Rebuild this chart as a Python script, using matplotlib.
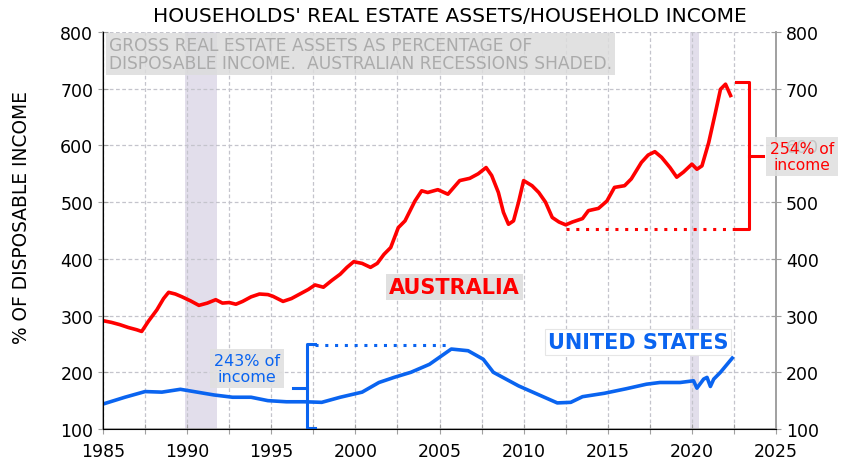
import numpy as np
import matplotlib
matplotlib.use("Agg")
import matplotlib.pyplot as plt
from matplotlib.ticker import MultipleLocator, FuncFormatter

# Australia: household real estate assets as % of disposable income
aus_year = [1985.0, 1985.5, 1986.0, 1986.5, 1987.0, 1987.3, 1987.7, 1988.2, 1988.6, 1988.9,
            1989.3, 1989.7, 1990.2, 1990.7, 1991.2, 1991.7, 1992.1, 1992.5, 1992.9, 1993.3,
            1993.8, 1994.3, 1994.8, 1995.1, 1995.7, 1996.2, 1996.7, 1997.2, 1997.6, 1998.1,
            1998.6, 1999.1, 1999.5, 1999.9, 2000.4, 2000.9, 2001.3, 2001.7, 2002.1, 2002.55,
            2002.95, 2003.54, 2003.94, 2004.3, 2004.9, 2005.5, 2006.2, 2006.8, 2007.3, 2007.77,
            2008.1, 2008.5, 2008.8, 2009.1, 2009.4, 2009.7, 2010.0, 2010.5, 2010.9, 2011.3,
            2011.7, 2012.1, 2012.5, 2012.9, 2013.5, 2013.85, 2014.45, 2014.95, 2015.4, 2016.0,
            2016.4, 2017.0, 2017.4, 2017.8, 2018.2, 2018.7, 2019.1, 2019.5, 2020.0, 2020.3,
            2020.6, 2021.0, 2021.4, 2021.7, 2022.0, 2022.3]
aus_val = [291, 288, 284, 279, 275, 272, 290, 310, 330, 341,
           338, 333, 326, 318, 322, 328, 322, 323, 320, 325,
           333, 338, 337, 334, 325, 330, 338, 346, 354, 350,
           362, 373, 385, 395, 392, 385, 392, 408, 420, 455,
           467, 502, 520, 517, 522, 514, 538, 542, 550, 561,
           547, 517, 482, 461, 467, 500, 538, 529, 517, 500,
           473, 465, 460, 465, 471, 485, 489, 502, 526, 529,
           541, 570, 583, 589, 579, 561, 544, 553, 567, 558,
           564, 605, 658, 699, 708, 688]

# United States
us_year = [1985.0, 1986.3, 1987.5, 1988.5, 1989.6, 1990.6, 1991.6, 1992.7, 1993.8, 1994.8,
           1995.9, 1997.0, 1998.0, 1999.1, 2000.4, 2001.4, 2002.3, 2003.3, 2004.4, 2005.7,
           2006.7, 2007.6, 2008.2, 2009.7, 2011.0, 2012.0, 2012.8, 2013.5, 2014.8, 2016.1,
           2017.3, 2018.1, 2019.3, 2020.1, 2020.3, 2020.7, 2020.9, 2021.1, 2021.3, 2021.7,
           2022.4]
us_val = [144, 156, 166, 165, 170, 165, 160, 156, 156, 150,
          148, 148, 147, 156, 165, 182, 191, 200, 214, 241,
          238, 223, 200, 176, 159, 146, 147, 157, 163, 171,
          179, 182, 182, 185, 172, 188, 191, 175, 188, 200,
          225]

recessions = [(1989.9, 1991.8), (2019.9, 2020.4)]

aus_col = "#ff0000"
us_col = "#0a64f0"

fig = plt.figure(figsize=(8.66, 4.77), dpi=100)
ax = fig.add_axes([103/866, 47/477, 673/866, 397/477])

for a, b in recessions:
    ax.axvspan(a, b, color="#e2deeb", zorder=0, lw=0)

ax.plot(aus_year, aus_val, color=aus_col, lw=2.6, zorder=3)
ax.plot(us_year, us_val, color=us_col, lw=2.6, zorder=3)

ax.set_xlim(1985, 2025)
ax.set_ylim(100, 800)
ax.xaxis.set_major_locator(MultipleLocator(2.5))
ax.yaxis.set_major_locator(MultipleLocator(100))
ax.xaxis.set_major_formatter(FuncFormatter(lambda v, p: "%d" % v if v % 5 == 0 else ""))
ax.grid(True, ls=(0, (3, 2)), color="#c4c4cc", lw=0.9, zorder=1)
for s in ["left", "right", "bottom"]:
    ax.spines[s].set_color("#a0a0a0")
    ax.spines[s].set_linewidth(1.2)
ax.spines["top"].set_visible(False)
ax.tick_params(axis="both", direction="inout", length=7, color="#a0a0a0", labelsize=12.5)
ax.tick_params(axis="x", pad=6)

ax2 = ax.twinx()
ax2.set_ylim(100, 800)
ax2.yaxis.set_major_locator(MultipleLocator(100))
ax2.spines["top"].set_visible(False)
ax2.spines["right"].set_color("#a0a0a0")
ax2.spines["right"].set_linewidth(1.2)
ax2.tick_params(axis="y", direction="inout", length=7, color="#a0a0a0", labelsize=12.5)

# note box
ax.text(1985.35, 761, "GROSS REAL ESTATE ASSETS AS PERCENTAGE OF\nDISPOSABLE INCOME.  AUSTRALIAN RECESSIONS SHADED.",
        fontsize=12.3, color="#ababab", va="center", ha="left", linespacing=1.05, zorder=4,
        bbox=dict(boxstyle="square,pad=0.15", fc="#dcdcdc", ec="none", alpha=0.85))

# Australia bracket
ax.plot([2012.5, 2022.6], [453, 453], color=aus_col, lw=2.2, ls=(0, (1, 2.2)), zorder=3)
ax.plot([2022.6, 2023.4, 2023.4, 2022.6], [711, 711, 453, 453], color=aus_col, lw=2.2, zorder=3)
ax.plot([2023.4, 2024.2], [582, 582], color=aus_col, lw=2.2, zorder=3)
ax2.text(2026.55, 581, "254% of\nincome", fontsize=11.2, color=aus_col, ha="center", va="center",
         linespacing=1.1, zorder=5, clip_on=False,
         bbox=dict(boxstyle="square,pad=0.25", fc="#e0e0e0", ec="none", alpha=0.88))

# US bracket
ax.plot([1997.6, 2005.4], [248, 248], color=us_col, lw=2.2, ls=(0, (1, 2.2)), zorder=3)
ax.plot([1997.6, 1997.1, 1997.1, 1997.6], [250, 250, 101, 101], color=us_col, lw=2.2, zorder=3)
ax.plot([1996.3, 1997.1], [173, 173], color=us_col, lw=2.2, zorder=3)
ax.text(1993.55, 207, "243% of\nincome", fontsize=11.5, color=us_col, ha="center", va="center",
        linespacing=1.1, zorder=5,
        bbox=dict(boxstyle="square,pad=0.25", fc="#e0e0e0", ec="none", alpha=0.9))

ax.text(2005.9, 350, "AUSTRALIA", fontsize=15, fontweight="bold", color=aus_col,
        ha="center", va="center", zorder=5,
        bbox=dict(boxstyle="square,pad=0.15", fc="#e0e0e0", ec="none"))
ax.text(2016.8, 253, "UNITED STATES", fontsize=15, fontweight="bold", color=us_col,
        ha="center", va="center", zorder=5,
        bbox=dict(boxstyle="square,pad=0.15", fc="white", ec="#e6e6e6", lw=0.8))

fig.text(450/866, 1 - 17/477, "HOUSEHOLDS' REAL ESTATE ASSETS/HOUSEHOLD INCOME",
         fontsize=14.5, ha="center", va="center")
fig.text(22/866, 1 - 217/477, "% OF DISPOSABLE INCOME", fontsize=13.4, rotation=90,
         ha="center", va="center")

fig.savefig("out.png", dpi=100)
